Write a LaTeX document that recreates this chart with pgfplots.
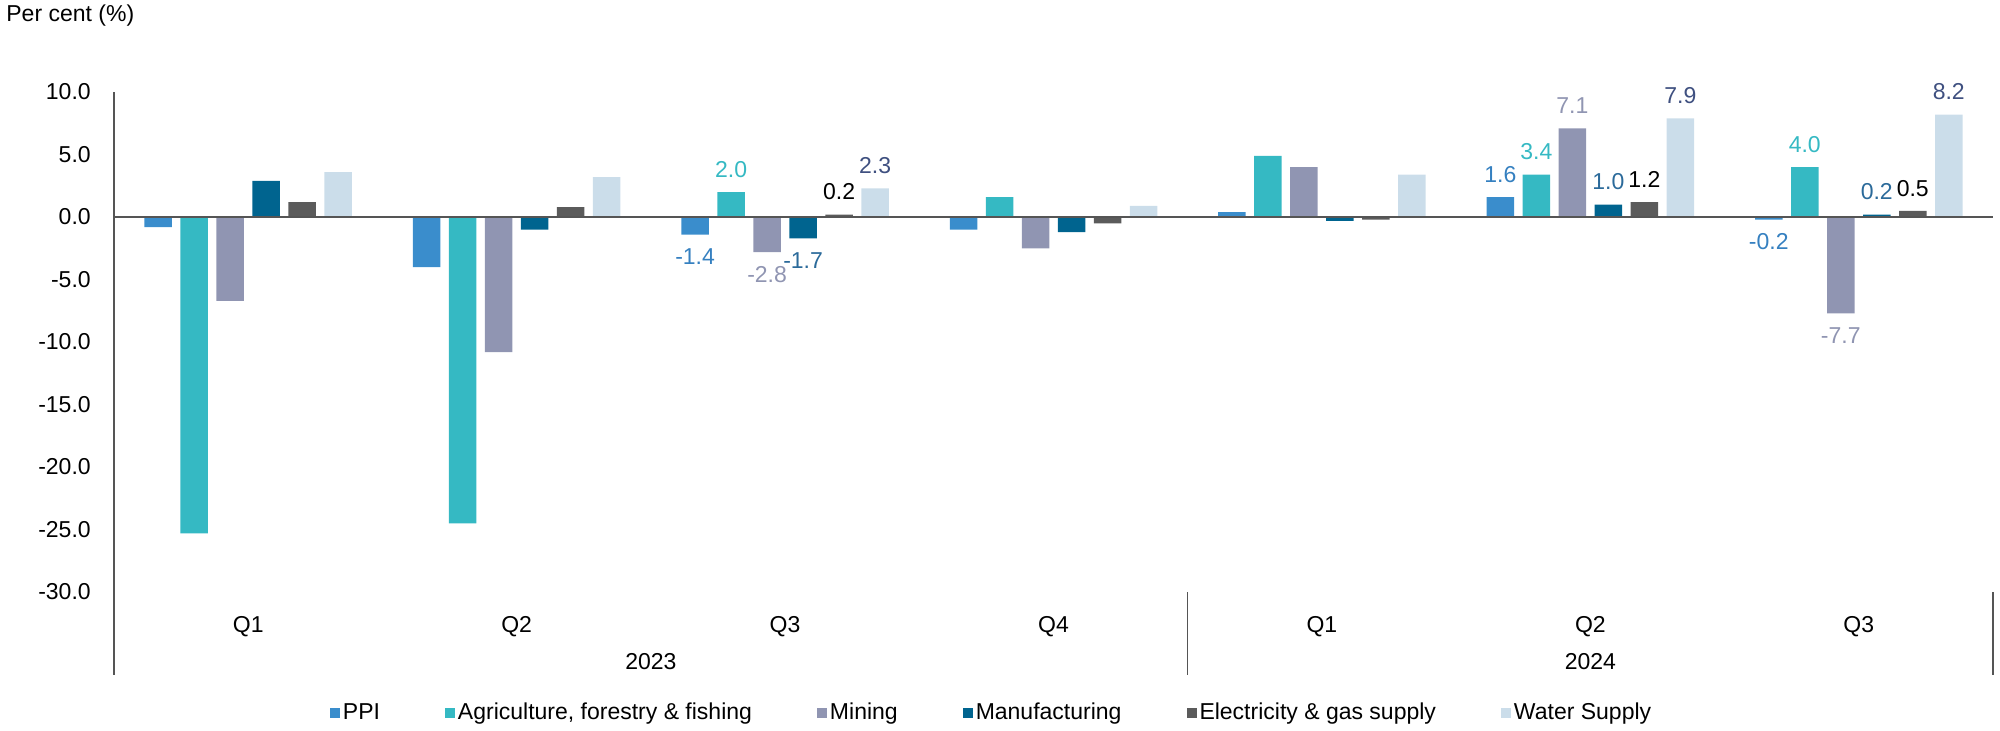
\documentclass[border=0pt]{standalone}
\usepackage{pgfplots}
\pgfplotsset{compat=1.18}
\usepackage{pgfplotstable}
\usepackage{fontspec}
\setmainfont{Liberation Sans}

\definecolor{cPPI}{HTML}{3A8DCC}
\definecolor{cAgr}{HTML}{35B9C3}
\definecolor{cMin}{HTML}{9095B2}
\definecolor{cMan}{HTML}{00648F}
\definecolor{cEle}{HTML}{5B5B5B}
\definecolor{cWat}{HTML}{CBDDEA}
\definecolor{lPPI}{HTML}{3580C0}
\definecolor{lMan}{HTML}{2B6A9A}
\definecolor{lWat}{HTML}{3F5080}
\definecolor{axgray}{HTML}{555555}

% quarters 2023 Q1..Q4, 2024 Q1..Q3; label columns only where the chart prints values
\pgfplotstableread{
x  ppi   agr    min    man   ele   wat  lppi  lagr  lmin  lman  lele  lwat
0  -0.8  -25.3  -6.7   2.9   1.2   3.6  {}    {}    {}    {}    {}    {}
1  -4.0  -24.5  -10.8  -1.0  0.8   3.2  {}    {}    {}    {}    {}    {}
2  -1.4  2.0    -2.8   -1.7  0.2   2.3  -1.4  2.0   -2.8  -1.7  0.2   2.3
3  -1.0  1.6    -2.5   -1.2  -0.5  0.9  {}    {}    {}    {}    {}    {}
4  0.4   4.9    4.0    -0.3  -0.2  3.4  {}    {}    {}    {}    {}    {}
5  1.6   3.4    7.1    1.0   1.2   7.9  1.6   3.4   7.1   1.0   1.2   7.9
6  -0.2  4.0    -7.7   0.2   0.5   8.2  -0.2  4.0   -7.7  0.2   0.5   8.2
}\data

\begin{document}
\begin{tikzpicture}[font=\fontsize{11.5bp}{13.8bp}\selectfont]
\path[use as bounding box] (-57bp,-69.5bp) rectangle (943bp,296bp);
\begin{axis}[
  at={(0,0)}, anchor=south west,
  scale only axis, width=939.5bp, height=250bp,
  xmin=-0.5, xmax=6.5, ymin=-30, ymax=10,
  clip=false,
  ybar=4.25bp, bar width=13.75bp,
  axis x line=bottom, axis y line=left,
  axis line style={-, draw=axgray, line width=0.75bp},
  x axis line style={draw=none},
  xtick={0,...,6}, xticklabels={Q1,Q2,Q3,Q4,Q1,Q2,Q3},
  major x tick style={draw=none},
  xticklabel style={anchor=center, yshift=-15bp},
  ytick={-30,-25,...,10},
  yticklabels={-30.0,-25.0,-20.0,-15.0,-10.0,-5.0,0.0,5.0,10.0},
  major y tick style={draw=none},
  yticklabel style={xshift=-6bp},
  point meta=explicit symbolic,
  visualization depends on={rawy \as \rawy},
  nodes near coords,
  nodes near coords style={inner ysep=7bp, inner xsep=1bp,
    /utils/exec={\ifdim\rawy pt<0pt \pgfkeysalso{/tikz/anchor=north}\else\pgfkeysalso{/tikz/anchor=south}\fi}},
  legend columns=6,
  legend style={at={(0.4673,-0.242)}, anchor=center, draw=none,
    /tikz/every even column/.append style={column sep=31bp},
    nodes={inner sep=1.5bp}},
  legend image code/.code={\fill[#1] (0bp,-2.5bp) rectangle (5bp,2.5bp);},
]
\addplot[fill=cPPI, draw=none, nodes near coords style={text=lPPI}]
  table[x=x, y=ppi, meta=lppi]{\data};
\addplot[fill=cAgr, draw=none, nodes near coords style={text=cAgr}]
  table[x=x, y=agr, meta=lagr]{\data};
\addplot[fill=cMin, draw=none, nodes near coords style={text=cMin}]
  table[x=x, y=min, meta=lmin]{\data};
\addplot[fill=cMan, draw=none, nodes near coords style={text=lMan}]
  table[x=x, y=man, meta=lman]{\data};
\addplot[fill=cEle, draw=none, nodes near coords style={text=black}]
  table[x=x, y=ele, meta=lele]{\data};
\addplot[fill=cWat, draw=none, nodes near coords style={text=lWat}]
  table[x=x, y=wat, meta=lwat]{\data};
\legend{PPI, {Agriculture, forestry \& fishing}, Mining, Manufacturing,
  {Electricity \& gas supply}, Water Supply}

% zero line and the year separators of the two-level category axis
\draw[axgray, line width=1bp] (axis cs:-0.5,0) -- (axis cs:6.5,0);
\draw[axgray, line width=0.75bp] (axis cs:-0.5,-30) -- ([yshift=-41.5bp]axis cs:-0.5,-30);
\draw[axgray, line width=0.75bp] (axis cs:3.5,-30) -- ([yshift=-41.5bp]axis cs:3.5,-30);
\draw[axgray, line width=0.75bp] (axis cs:6.5,-30) -- ([yshift=-41.5bp]axis cs:6.5,-30);
\node at ([yshift=-35bp]axis cs:1.5,-30) {2023};
\node at ([yshift=-35bp]axis cs:5,-30) {2024};
\node[anchor=west, inner sep=0pt] at ([xshift=-54bp, yshift=288bp]rel axis cs:0,0) {Per cent (\%)};
\end{axis}
\end{tikzpicture}
\end{document}
